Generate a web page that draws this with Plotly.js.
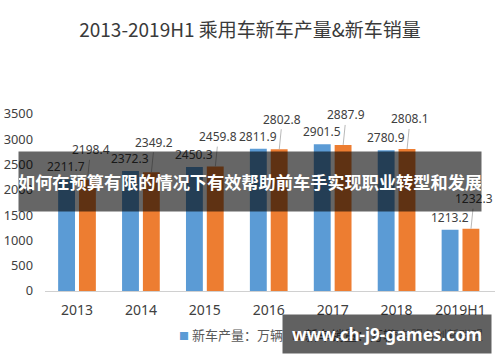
<!DOCTYPE html>
<html>
<head>
<meta charset="utf-8">
<script src="https://cdn.plot.ly/plotly-3.0.1.min.js"></script>
<style>html,body{margin:0;padding:0;background:#fff;}#chart{width:500px;height:362px;}</style>
</head>
<body>
<div id="chart"></div>
<script>
const years = ['2013', '2014', '2015', '2016', '2017', '2018', '2019H1'];
const production = [2211.7, 2372.3, 2450.3, 2811.9, 2901.5, 2780.9, 1213.2];
const sales = [2198.4, 2349.2, 2459.8, 2802.8, 2887.9, 2808.1, 1232.3];
const yTicks = [0, 500, 1000, 1500, 2000, 2500, 3000, 3500];
const seriesNames = ['新车产量：万辆', '新车销量：万辆'];
const titleText = '2013-2019H1 乘用车新车产量&新车销量';
const sourceText = '汽车服务创新联盟';
const bannerText = '如何在预算有限的情况下有效帮助前车手实现职业转型和发展';
const watermarkText = 'www.ch-j9-games.com';

const BLUE = '#5B9BD5', ORANGE = '#ED7D31', TXT = '#404040';
const LATIN = 'Noto Sans, Noto Sans CJK SC, sans-serif';
const CJK = 'Noto Sans CJK SC, Noto Sans, sans-serif';

const traces = [
  {
    type: 'bar', name: seriesNames[0], x: years, y: production,
    marker: {color: BLUE}, showlegend: false, hoverinfo: 'skip'
  },
  {
    type: 'bar', name: seriesNames[1], x: years, y: sales,
    marker: {color: ORANGE}, showlegend: false, hoverinfo: 'skip'
  }
];

const annotations = [];
production.forEach((v, i) => {
  annotations.push({
    x: i, y: v, xref: 'x', yref: 'y', xshift: -11, yshift: 12.5,
    xanchor: 'center', yanchor: 'middle',
    text: v.toFixed(1), showarrow: false,
    font: {family: LATIN, size: 12, color: TXT}
  });
});
sales.forEach((v, i) => {
  annotations.push({
    x: i, y: v, xref: 'x', yref: 'y', xshift: 10.5,
    text: v.toFixed(1), showarrow: true, arrowhead: 0, arrowwidth: 0.8,
    arrowcolor: '#a6a6a6', ax: 3, ay: -30, standoff: 0,
    font: {family: LATIN, size: 12, color: TXT}
  });
});
// legend entries
annotations.push({
  xref: 'paper', yref: 'paper', x: (177 - 45) / 450, y: (291 - 335) / 177.5,
  xanchor: 'left', yanchor: 'middle', showarrow: false,
  text: '<span style="color:' + BLUE + ';font-size:10px">■</span> ' + seriesNames[0],
  font: {family: CJK, size: 13, color: '#595959'}
});
annotations.push({
  xref: 'paper', yref: 'paper', x: (290 - 45) / 450, y: (291 - 335) / 177.5,
  xanchor: 'left', yanchor: 'middle', showarrow: false,
  text: '<span style="color:' + ORANGE + ';font-size:10px">■</span> ' + seriesNames[1],
  font: {family: CJK, size: 13, color: '#595959'}
});
annotations.push({
  xref: 'paper', yref: 'paper', x: (435 - 45) / 450, y: (291 - 335) / 177.5,
  xanchor: 'center', yanchor: 'middle', showarrow: false,
  text: sourceText, font: {family: CJK, size: 12, color: '#8c8c8c'}
});
// overlay banner
annotations.push({
  xref: 'paper', yref: 'paper', x: (250 - 45) / 450, y: (291 - 181.5) / 177.5,
  xanchor: 'center', yanchor: 'middle', showarrow: false,
  width: 462, height: 59, borderpad: 0, bgcolor: 'rgba(0,0,0,0.6)',
  text: '<b>' + bannerText + '</b>', align: 'center', valign: 'middle',
  font: {family: CJK, size: 17.2, color: '#ffffff'}
});
// watermark
annotations.push({
  xref: 'paper', yref: 'paper', x: (387 - 45) / 450, y: (291 - 334) / 177.5,
  xanchor: 'center', yanchor: 'middle', showarrow: false,
  width: 208, height: 38, borderpad: 0, bgcolor: 'rgba(0,0,0,0.62)',
  text: '<b>' + watermarkText + '</b>', align: 'center', valign: 'middle',
  font: {family: LATIN, size: 17, color: '#ffffff'}
});

const layout = {
  width: 500, height: 362,
  margin: {l: 45, r: 5, t: 113.5, b: 71, pad: 0},
  paper_bgcolor: '#ffffff', plot_bgcolor: '#ffffff',
  title: {
    text: titleText, xref: 'container', yref: 'container', x: 0.5, y: 1 - 30 / 362,
    xanchor: 'center', yanchor: 'middle',
    font: {family: CJK, size: 19, color: '#3a3a3a'}
  },
  barmode: 'group', bargap: 0.348, bargroupgap: 0.19,
  showlegend: false,
  xaxis: {
    type: 'category', showline: true, linecolor: '#d0d0d0', linewidth: 1.3,
    ticks: '', showgrid: false, zeroline: false, ticklabelstandoff: 6,
    tickfont: {family: LATIN, size: 14, color: TXT}, fixedrange: true
  },
  yaxis: {
    range: [0, 3500], tickvals: yTicks, ticktext: yTicks.map(String),
    showline: false, showgrid: false, zeroline: false, ticks: '', ticklabelstandoff: 11,
    tickfont: {family: LATIN, size: 12.8, color: TXT}, fixedrange: true
  },
  annotations: annotations
};

Plotly.newPlot('chart', traces, layout, {displayModeBar: false, staticPlot: true});
</script>
</body>
</html>
